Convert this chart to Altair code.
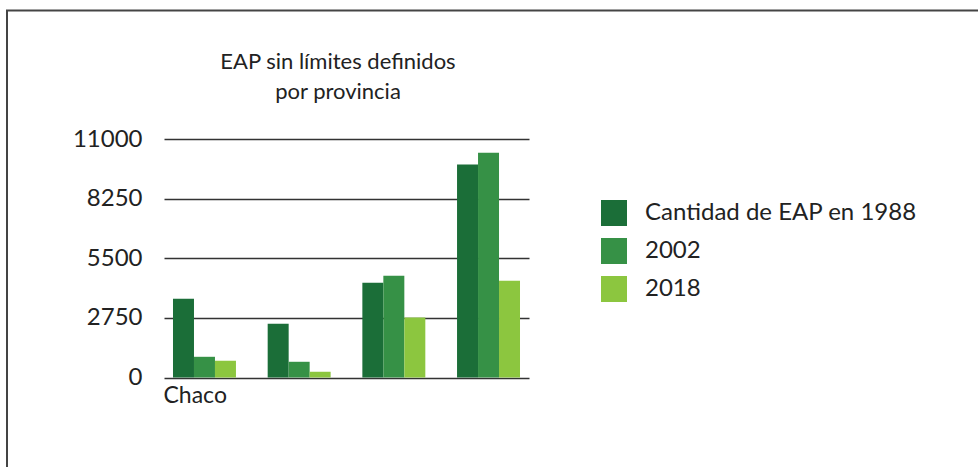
import altair as alt
import pandas as pd

provincias = ["Chaco", " ", "  ", "   "]
series = ["Cantidad de EAP en 1988", "2002", "2018"]
v1988 = [3630, 2480, 4370, 9820]
v2002 = [955, 725, 4690, 10370]
v2018 = [770, 265, 2770, 4460]
colores = ["#1b6e38", "#369146", "#8cc63f"]
ticks_y = [0, 2750, 5500, 8250, 11000]
titulo = ["EAP sin límites definidos", "por provincia"]

rows = []
for i, p in enumerate(provincias):
    for s, vals in zip(series, [v1988, v2002, v2018]):
        rows.append({"provincia": p, "serie": s, "valor": vals[i]})
df = pd.DataFrame(rows)

FONT = "Lato"

bars = alt.Chart(df).mark_bar().encode(
    x=alt.X("provincia:N", sort=provincias,
            scale=alt.Scale(paddingInner=0.335, paddingOuter=0.095),
            axis=alt.Axis(title=None, labelAlign="left", labelOffset=-41,
                          labelPadding=7, labelFontSize=23, labelColor="#222",
                          labelFont=FONT, ticks=False, domain=False,
                          labelAngle=0, labelBaseline="top")),
    xOffset=alt.XOffset("serie:N", sort=series, scale=alt.Scale(paddingInner=0, paddingOuter=0)),
    y=alt.Y("valor:Q", scale=alt.Scale(domain=[0, 11000], nice=False),
            axis=alt.Axis(title=None, values=ticks_y, grid=True, gridColor="#333",
                          gridWidth=1.5, ticks=False, domain=False, format="d",
                          labelFontSize=24, labelColor="#222", labelFont=FONT,
                          labelPadding=22)),
    color=alt.Color("serie:N", sort=series,
                    scale=alt.Scale(domain=series, range=colores),
                    legend=alt.Legend(title=None, orient="none", legendX=437, legendY=61,
                                      symbolType="square", symbolSize=676,
                                      symbolStrokeWidth=0, symbolOpacity=1,
                                      labelFontSize=24, labelColor="#222", labelFont=FONT,
                                      labelOffset=18, rowPadding=12, labelLimit=400)),
)

title_df = pd.DataFrame({"t": ["\n".join(titulo)]})
title = alt.Chart(title_df).mark_text(
    font=FONT, fontSize=22, color="#222", align="center", baseline="alphabetic",
    lineBreak="\n", lineHeight=30
).encode(
    text="t:N", x=alt.value(174), y=alt.value(-70),
)

frame = alt.Chart(alt.Data(values=[{"a": 1}])).mark_rect(
    fill=None, stroke="#444", strokeWidth=2
).encode(
    x=alt.value(-157), x2=alt.value(860),
    y=alt.value(-128.5), y2=alt.value(360),
)

chart = alt.layer(bars, title, frame).properties(
    width=365, height=238.5,
    autosize=alt.AutoSizeParams(type="none"),
    padding={"left": 164, "top": 139, "right": 449, "bottom": 89.5},
).configure(background="white").configure_view(stroke=None)

chart.save("out.html", embed_options={"renderer": "svg", "actions": False})
